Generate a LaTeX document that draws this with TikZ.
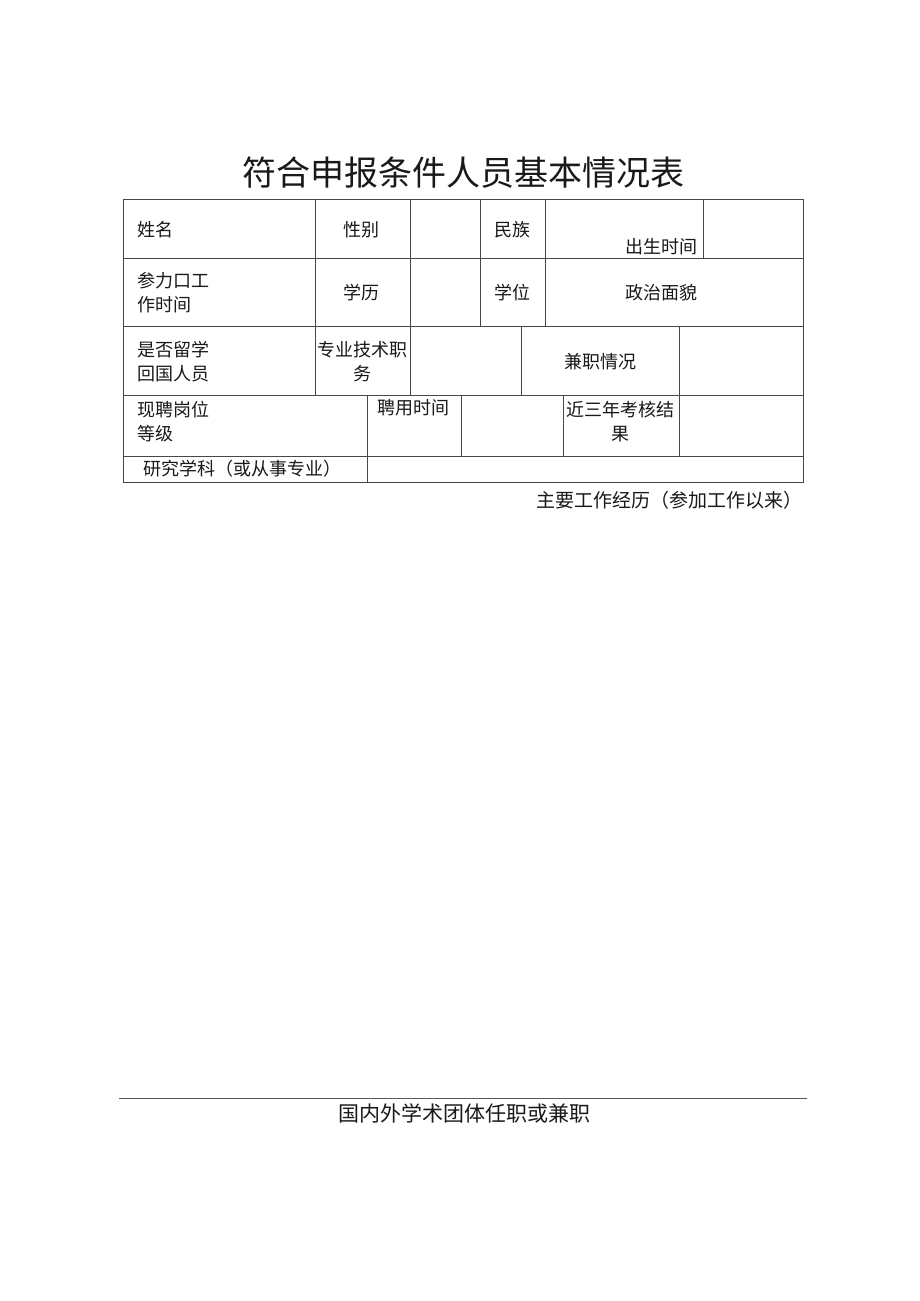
\documentclass[tikz,border=0pt]{standalone}
\usepackage{fontspec}
\newfontfamily\cjk{Noto Sans CJK SC}
\begin{document}
\begin{tikzpicture}[x=1pt,y=-1pt,
  grid/.style={draw=black!72,line width=0.9pt},
  cell/.style={font=\cjk\fontsize{18}{24}\selectfont, inner sep=0pt, text=black!90},
  leftcell/.style={cell, anchor=west, align=left},
  title/.style={font=\cjk\fontsize{34}{36}\selectfont, inner sep=0pt, text=black!90},
  foot/.style={font=\cjk\fontsize{19}{22}\selectfont, inner sep=0pt, text=black!90}]
\useasboundingbox[fill=white] (0,0) rectangle (920,1301);

% title
\node[title] (title) at (463.5,173) {符合申报条件人员基本情况表};

% table frame and rules
\draw[grid] (123,199) rectangle (803,482);
\foreach \y in {258,326,395,456} \draw[grid] (123,\y) -- (803,\y);
\draw[grid] (315,199) -- (315,395);
\draw[grid] (410,199) -- (410,395);
\draw[grid] (480,199) -- (480,326);
\draw[grid] (545,199) -- (545,326);
\draw[grid] (703,199) -- (703,258);
\draw[grid] (521,326) -- (521,395);
\draw[grid] (679,326) -- (679,456);
\draw[grid] (367,395) -- (367,482);
\draw[grid] (461,395) -- (461,456);
\draw[grid] (563,395) -- (563,456);

% row 1
\node[leftcell] (xm) at (137,230) {姓名};
\node[cell] (xb) at (361,230) {性别};
\node[cell] (mz) at (512,230) {民族};
\node[cell] (cs) at (661,247) {出生时间};

% row 2
\node[leftcell] (cj1) at (137,281) {参力口工};
\node[leftcell] (cj2) at (137,305) {作时间};
\node[cell] (xl) at (361,293) {学历};
\node[cell] (xw) at (512,293) {学位};
\node[cell] (zz) at (661,293) {政治面貌};

% row 3
\node[leftcell] (sf1) at (137,350) {是否留学};
\node[leftcell] (sf2) at (137,374) {回国人员};
\node[cell] (zy1) at (362,350) {专业技术职};
\node[cell] (zy2) at (362,374) {务};
\node[cell] (jz) at (600,362) {兼职情况};

% row 4
\node[leftcell] (xp1) at (137,410) {现聘岗位};
\node[leftcell] (xp2) at (137,434) {等级};
\node[cell] (py) at (413,408) {聘用时间};
\node[cell] (kh1) at (620,410) {近三年考核结};
\node[cell] (kh2) at (620,434) {果};

% row 5
\node[leftcell] (yj) at (143,469) {研究学科（或从事专业）};

% below table
\node[foot, anchor=east] (gz) at (803,500) {主要工作经历（参加工作以来）};

\draw[draw=black!65,line width=0.9pt] (119,1098) -- (807,1098);
\node[foot, font=\cjk\fontsize{21}{22}\selectfont] (gn) at (464,1113) {国内外学术团体任职或兼职};
\end{tikzpicture}
\end{document}
